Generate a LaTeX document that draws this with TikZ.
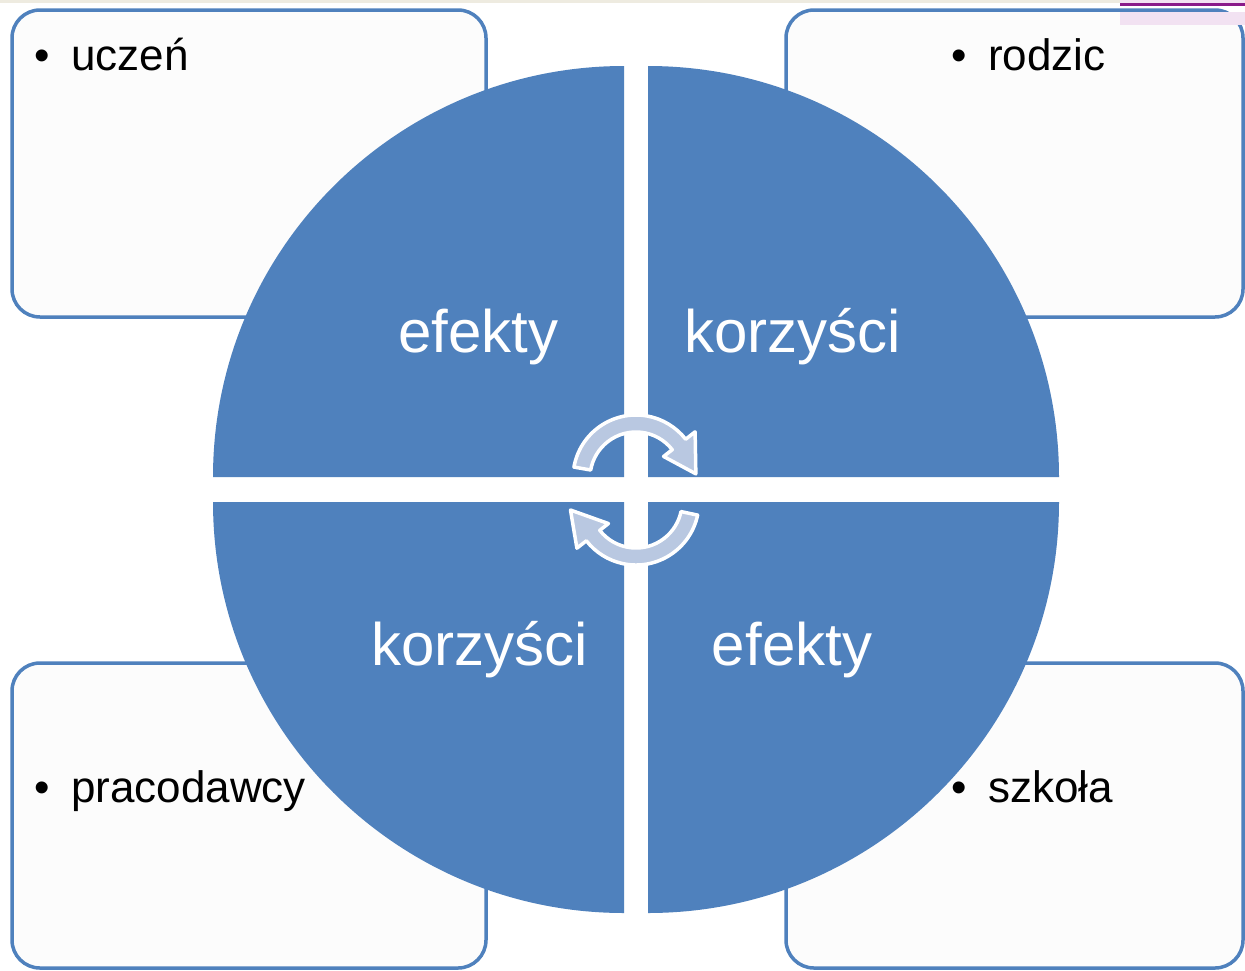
\documentclass[tikz,border=0pt]{standalone}
\usepackage{fontspec}
\setmainfont{Liberation Sans}
\definecolor{qblue}{HTML}{4F81BD}
\definecolor{boxfill}{HTML}{FCFCFC}
\definecolor{arrowfill}{HTML}{B9C8E1}
\definecolor{cream}{HTML}{EEEBE0}
\definecolor{purp}{HTML}{8A1A8A}
\definecolor{pinkish}{HTML}{F2E2F2}
\tikzset{
  pane/.style={draw=qblue, line width=3.5, fill=boxfill, rounded corners=28},
  quad/.style={fill=qblue},
  qlabel/.style={text=white, font=\fontsize{60}{72}\selectfont, inner sep=0, anchor=base},
  blabel/.style={text=black, font=\fontsize{44}{52}\selectfont, inner sep=0, anchor=base west},
  cyc/.style={fill=arrowfill, draw=white, line width=3.5, line join=round}
}
\newcommand{\bul}[1]{\makebox[37pt][l]{•}#1}
\begin{document}
\begin{tikzpicture}[x=1pt, y=-1pt]
\useasboundingbox (0,0) rectangle (1245,970);
\fill[white] (0,0) rectangle (1245,970);
% top strip artefacts
\fill[cream] (0,0) rectangle (1120,3);
% boxes
\draw[pane] (12,10) rectangle (486,317);
\draw[pane] (786,10) rectangle (1243,317);
\draw[pane] (12,663) rectangle (486,968);
\draw[pane] (786,663) rectangle (1243,968);
\fill[pinkish] (1120,0) rectangle (1245,3);
\fill[purp] (1120,3) rectangle (1245,6);
\fill[pinkish] (1120,12) rectangle (1245,25);
% quadrants
\fill[quad] (624,477) -- ++(180:411) arc[start angle=180, end angle=270, radius=411] -- cycle;
\fill[quad] (648,477) -- ++(270:411) arc[start angle=270, end angle=360, radius=411] -- cycle;
\fill[quad] (624,502) -- ++(90:411) arc[start angle=90, end angle=180, radius=411] -- cycle;
\fill[quad] (648,502) -- ++(0:411) arc[start angle=0, end angle=90, radius=411] -- cycle;
% cycle arrows
\begin{scope}[shift={(636,478)}]
\draw[cyc] (190:63) arc[start angle=190, end angle=322, radius=63]
  -- (322:75) -- (356:60) -- (322:35) -- (322:46)
  arc[start angle=322, end angle=190, radius=46] -- cycle;
\end{scope}
\begin{scope}[shift={(636,502)}]
\draw[cyc] (12:63) arc[start angle=12, end angle=142, radius=63]
  -- (142:75) -- (173:66) -- (142:35) -- (142:46)
  arc[start angle=142, end angle=12, radius=46] -- cycle;
\end{scope}
% quadrant labels
\node[qlabel] (q1) at (478.5,352) {efekty};
\node[qlabel] (q2) at (792.5,352) {korzyści};
\node[qlabel] (q3) at (479.5,665) {korzyści};
\node[qlabel] (q4) at (792,665) {efekty};
% box labels
\node[blabel] (b1) at (34,70) {\bul{uczeń}};
\node[blabel] (b2) at (951,70) {\bul{rodzic}};
\node[blabel] (b3) at (34,802) {\bul{pracodawcy}};
\node[blabel] (b4) at (951,802) {\bul{szkoła}};
\end{tikzpicture}
\end{document}
